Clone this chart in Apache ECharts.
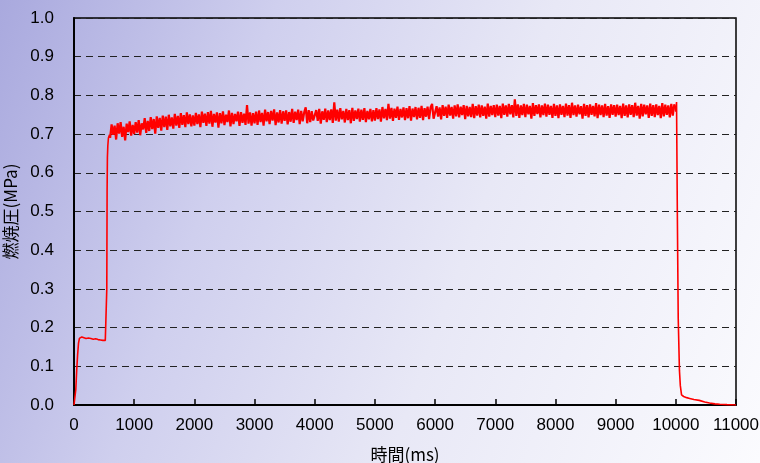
<!DOCTYPE html>
<html>
<head>
<meta charset="utf-8">
<script src="https://cdn.jsdelivr.net/npm/echarts@6/dist/echarts.min.js"></script>
<style>
html,body{margin:0;padding:0;}
body{width:760px;height:463px;background:linear-gradient(110deg,#a9a9de 0%,#cfcfee 30%,#e8e8f6 60%,#fbfbfe 100%);}
#chart{width:760px;height:463px;}
</style>
</head>
<body>
<div id="chart"></div>
<script>
// x-axis tick labels (ms) and y-axis tick labels (MPa)
const xTicks = [0,1000,2000,3000,4000,5000,6000,7000,8000,9000,10000,11000];
const yTicks = [0.0,0.1,0.2,0.3,0.4,0.5,0.6,0.7,0.8,0.9,1.0];

// ignition phase: [time ms, pressure MPa]
const ignition = [
  [0,0],[15,0.002],[30,0.04],[45,0.09],[60,0.13],[75,0.16],[90,0.172],[110,0.177],
  [130,0.176],[160,0.173],[200,0.172],[240,0.173],[280,0.172],[320,0.170],[360,0.171],
  [400,0.169],[440,0.168],[480,0.167],[520,0.167],[540,0.168],[545,0.30],[550,0.55],
  [555,0.64],[562,0.67],[572,0.69],[590,0.698],[600,0.690]
];

// main combustion plateau, sampled every 25 ms from 600 ms
const plateauStartMs = 600;
const plateauStepMs = 25;
const plateau = [
  0.690,0.725,0.698,0.722,0.686,0.728,0.701,0.731,0.693,0.719,0.684,0.727,0.705,0.733,0.696,0.724,
  0.700,0.731,0.704,0.736,0.697,0.728,0.712,0.741,0.703,0.734,
  0.708,0.744,0.713,0.739,0.701,0.746,0.716,0.742,0.709,0.748,
  0.718,0.745,0.711,0.750,0.720,0.743,0.714,0.752,0.722,0.747,
  0.716,0.754,0.724,0.749,0.718,0.756,0.726,0.751,0.720,0.748,
  0.722,0.755,0.726,0.751,0.718,0.758,0.729,0.753,0.721,0.757,
  0.727,0.760,0.719,0.752,0.730,0.756,0.717,0.754,0.728,0.759,
  0.723,0.750,0.731,0.761,0.720,0.755,0.726,0.752,0.733,0.758,
  0.721,0.757,0.729,0.753,0.724,0.775,0.727,0.756,0.722,0.754,
  0.728,0.758,0.724,0.761,0.731,0.755,0.722,0.763,0.733,0.757,
  0.726,0.760,0.735,0.764,0.723,0.756,0.730,0.762,0.727,0.759,
  0.734,0.761,0.725,0.757,0.732,0.765,0.729,0.758,0.736,0.763,
  0.726,0.760,0.733,0.756,0.769,0.728,0.762,0.731,0.759,0.735,
  0.730,0.762,0.734,0.765,0.727,0.759,0.737,0.766,0.731,0.761,
  0.736,0.764,0.729,0.782,0.735,0.763,0.732,0.767,0.738,0.760,
  0.730,0.765,0.736,0.762,0.728,0.768,0.734,0.761,0.739,0.766,
  0.732,0.763,0.737,0.767,0.731,0.760,0.738,0.765,0.733,0.762,
  0.735,0.767,0.739,0.764,0.732,0.770,0.741,0.765,0.736,0.778,
  0.740,0.768,0.734,0.766,0.742,0.771,0.737,0.765,0.743,0.769,
  0.736,0.767,0.741,0.772,0.735,0.766,0.744,0.770,0.738,0.768,
  0.742,0.773,0.736,0.767,0.745,0.771,0.739,0.769,0.778,0.740,
  0.741,0.772,0.745,0.769,0.738,0.775,0.747,0.771,0.742,0.776,
  0.748,0.770,0.740,0.774,0.746,0.777,0.743,0.771,0.749,0.775,
  0.739,0.773,0.746,0.770,0.744,0.778,0.741,0.772,0.748,0.776,
  0.743,0.774,0.747,0.771,0.740,0.779,0.745,0.773,0.749,0.775,
  0.744,0.776,0.748,0.773,0.741,0.779,0.750,0.774,0.745,0.778,
  0.751,0.775,0.743,0.790,0.747,0.777,0.742,0.774,0.749,0.778,
  0.744,0.776,0.751,0.773,0.740,0.780,0.747,0.775,0.752,0.777,
  0.743,0.774,0.749,0.779,0.745,0.776,0.750,0.773,0.742,0.778,
  0.747,0.774,0.741,0.777,0.750,0.773,0.744,0.779,0.748,0.775,
  0.742,0.781,0.749,0.774,0.745,0.776,0.751,0.772,0.740,0.778,
  0.747,0.775,0.743,0.777,0.750,0.773,0.746,0.780,0.741,0.776,
  0.749,0.774,0.744,0.778,0.748,0.772,0.742,0.777,0.750,0.775,
  0.745,0.776,0.749,0.773,0.741,0.779,0.747,0.774,0.743,0.777,
  0.750,0.775,0.744,0.781,0.748,0.773,0.740,0.778,0.746,0.776,
  0.751,0.774,0.742,0.779,0.747,0.775,0.744,0.777,0.749,0.773,
  0.741,0.780,0.746,0.776,0.750,0.774,0.743,0.778,0.748,0.777
];

// shutdown / decay: [time ms, pressure MPa]
const shutdown = [
  [9975,0.777],[10000,0.758],[10012,0.783],[10025,0.50],[10040,0.225],[10060,0.09],[10075,0.05],
  [10095,0.026],[10130,0.022],[10180,0.019],[10230,0.017],[10300,0.014],[10390,0.012],
  [10480,0.008],[10560,0.005],[10650,0.003],[10730,0.002],[10850,0.001],[11000,0]
];

const plateauData = plateau.map((v, i) => [plateauStartMs + i * plateauStepMs, v]);

const chart = echarts.init(document.getElementById('chart'), null, {renderer: 'canvas'});
const latin = 'Liberation Sans, Arial, sans-serif';
const cjk = '"Noto Sans CJK JP", "Liberation Sans", sans-serif';
const lineBase = {type: 'line', showSymbol: false, symbol: 'none', z: 3, silent: true};
chart.setOption({
  backgroundColor: 'transparent',
  animation: false,
  grid: {left: 74, right: 24, top: 18, bottom: 58, containLabel: false, outerBoundsMode: 'none',
         show: true, borderColor: '#000', borderWidth: 1.5, backgroundColor: 'transparent'},
  xAxis: {
    type: 'value', min: xTicks[0], max: xTicks[xTicks.length - 1], interval: 1000,
    name: '時間(ms)', nameLocation: 'middle', nameGap: 41,
    nameTextStyle: {fontFamily: cjk, fontSize: 17, color: '#000'},
    axisLine: {show: true, lineStyle: {color: '#000', width: 2}},
    axisTick: {show: true, inside: true, length: 6, lineStyle: {color: '#000', width: 1.5}},
    axisLabel: {fontFamily: latin, fontSize: 17, color: '#000', margin: 12, formatter: v => String(v)},
    splitLine: {show: false}
  },
  yAxis: {
    type: 'value', min: yTicks[0], max: yTicks[yTicks.length - 1], interval: 0.1,
    name: '燃焼圧(MPa)', nameLocation: 'middle', nameGap: 48, nameRotate: 90,
    nameTextStyle: {fontFamily: cjk, fontSize: 17, color: '#000'},
    axisLine: {show: true, lineStyle: {color: '#000', width: 2}},
    axisTick: {show: false},
    axisLabel: {fontFamily: latin, fontSize: 17, color: '#000', margin: 20, formatter: v => v.toFixed(1)},
    splitLine: {show: true, lineStyle: {color: '#222', width: 1, type: [7, 5]}}
  },
  series: [
    Object.assign({}, lineBase, {data: ignition, lineStyle: {color: '#ff0000', width: 1.6}}),
    Object.assign({}, lineBase, {data: plateauData, lineStyle: {color: '#ff0000', width: 2.2}}),
    Object.assign({}, lineBase, {data: shutdown, lineStyle: {color: '#ff0000', width: 1.6}})
  ]
});
</script>
</body>
</html>
